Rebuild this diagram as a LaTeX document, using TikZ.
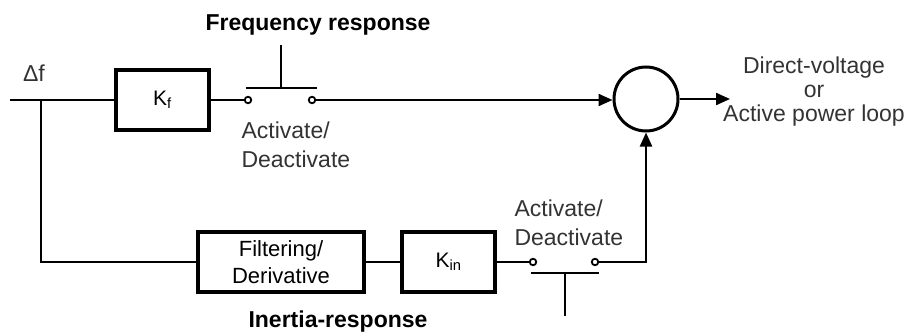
\documentclass[tikz,border=0pt]{standalone}
\usepackage{fontspec}
\setmainfont{Liberation Sans}
\usetikzlibrary{arrows.meta}
\begin{document}
\begin{tikzpicture}[x=1pt,y=-1pt,
  blockbox/.style={draw,line width=3.4pt,minimum height=60pt,inner sep=0pt,font=\fontsize{21}{24}\selectfont},
  wire/.style={line width=2.2pt},
  sig/.style={wire,-{Triangle[length=14pt,width=12pt]}},
  contact/.style={circle,draw,line width=1.8pt,fill=white,minimum size=6.5pt,inner sep=0pt},
  lbl/.style={font=\fontsize{23}{29}\selectfont,text=black!80},
  head/.style={font=\bfseries\fontsize{23}{26}\selectfont}]
\useasboundingbox (0,0) rectangle (912,334);

% blocks
\node[blockbox,minimum width=93pt] (kf) at (162.5,100) {K\textsubscript{f}};
\node[blockbox,minimum width=166pt,align=center,font=\fontsize{22}{27}\selectfont] (filt) at (281,262) {Filtering/\\Derivative};
\node[blockbox,minimum width=93pt] (kin) at (448.5,262) {K\textsubscript{in}};
\node[circle,draw,line width=3pt,minimum size=64pt,inner sep=0pt] (sum) at (646,99) {};

% points on the wires
\coordinate (in) at (10,100);
\coordinate (split) at (41,100);
\coordinate (low) at (41,262);
\coordinate (bend) at (646,262);
\coordinate (out) at (730,99);
\node[contact] (c1) at (248,100) {};
\node[contact] (c2) at (312,100) {};
\node[contact] (c3) at (533,262) {};
\node[contact] (c4) at (595,262) {};

% frequency-response path
\draw[wire] (in) -- (kf.west);
\draw[wire] (kf.east) -- (c1.west);
\draw[sig] (c2.east) -- (sum.west |- c2) ;
\draw[sig] (sum.east) -- (out);

% inertia-response path
\draw[wire] (split) -- (low) -- (filt.west);
\draw[wire] (filt.east) -- (kin.west);
\draw[wire] (kin.east) -- (c3.west);
\draw[sig] (c4.east) -- (bend) -- (sum.south);

% switch actuators
\coordinate (b1l) at (246,88);
\coordinate (b1r) at (317,88);
\coordinate (s1) at (281,45);
\draw[wire] (b1l) -- (b1r);
\draw[wire] (s1) -- (s1 |- b1l);
\coordinate (b2l) at (531,273);
\coordinate (b2r) at (599,273);
\coordinate (s2) at (565,316);
\draw[wire] (b2l) -- (b2r);
\draw[wire] (s2) -- (s2 |- b2l);

% labels
\node[lbl] (df) at (34,73) {Δf};
\node[head] (fr) at (318,25) {Frequency response};
\node[head] (ir) at (338,322) {Inertia-response};
\node[lbl,align=left,anchor=north west] (sw1) at (238,118) {Activate/\\Deactivate};
\node[lbl,align=left,anchor=north west] (sw2) at (511,196) {Activate/\\Deactivate};
\node[lbl,align=center] (outl) at (814,92) {Direct-voltage\\[-5pt]or\\[-5pt]Active power loop};
\end{tikzpicture}
\end{document}
